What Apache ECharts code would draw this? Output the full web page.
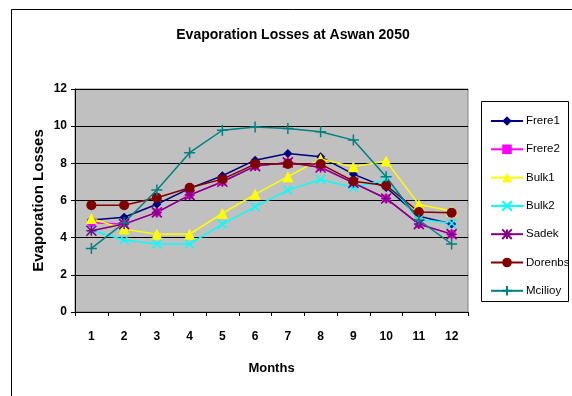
<!DOCTYPE html>
<html>
<head>
<meta charset="utf-8">
<script src="https://cdn.jsdelivr.net/npm/echarts@6/dist/echarts.min.js"></script>
<style>
  html, body { margin: 0; padding: 0; background: #fff; }
  #chart { width: 572px; height: 396px; }
</style>
</head>
<body>
<div id="chart"></div>
<script>
// Monthly evaporation losses at Aswan (2050) by estimation method
const months = ['1', '2', '3', '4', '5', '6', '7', '8', '9', '10', '11', '12'];
const frere1  = [4.95, 5.10, 5.80, 6.65, 7.33, 8.17, 8.53, 8.35, 7.42, 6.70, 5.16, 4.73];
const frere2  = [4.80, 4.73, 5.36, 6.29, 7.01, 7.85, 8.05, 7.80, 6.95, 6.11, 4.73, 4.19];
const bulk1   = [5.03, 4.46, 4.19, 4.19, 5.30, 6.33, 7.28, 8.23, 7.81, 8.12, 5.79, 5.43];
const bulk2   = [4.41, 3.87, 3.66, 3.66, 4.73, 5.66, 6.56, 7.13, 6.70, 7.10, 4.98, 4.77];
const sadek   = [4.37, 4.73, 5.36, 6.29, 7.01, 7.85, 8.05, 7.78, 6.95, 6.11, 4.73, 4.19];
const dorenbs = [5.75, 5.75, 6.15, 6.69, 7.15, 7.96, 7.96, 7.96, 7.04, 6.81, 5.38, 5.34];
const mcilioy = [3.42, 4.80, 6.56, 8.57, 9.78, 9.96, 9.87, 9.70, 9.25, 7.28, 4.95, 3.66];

const FONT = '"Liberation Sans Narrow", "Arial Narrow", "Liberation Sans", Arial, sans-serif';

// Open-stroke marker shapes
const PLUS = 'path://M5 0 L5 10 M0 5 L10 5';
const CROSS = 'path://M0 0 L10 10 M10 0 L0 10';
const ASTER = 'path://M5 0 L5 10 M0 0 L10 10 M10 0 L0 10 M0 5 L10 5';

function line(name, data, color, symbol, size, stroke) {
  return {
    name: name,
    type: 'line',
    data: data,
    symbol: symbol,
    symbolSize: size,
    showAllSymbol: true,
    animation: false,
    lineStyle: { color: color, width: 1.5 },
    itemStyle: { color: color, borderColor: color, borderWidth: stroke ? 1.5 : 0 },
    emphasis: { disabled: true }
  };
}

const chart = echarts.init(document.getElementById('chart'), null, { renderer: 'canvas' });
chart.setOption({
  backgroundColor: '#fff',
  animation: false,
  title: {
    text: 'Evaporation Losses at Aswan 2050',
    left: 288, top: 23, textAlign: 'center',
    textStyle: { fontFamily: FONT, fontWeight: 'bold', fontSize: 14, color: '#000' }
  },
  graphic: [
    { type: 'rect', shape: { x: 11.5, y: 9.5, width: 620, height: 420 },
      style: { fill: 'none', stroke: '#000', lineWidth: 1 }, z: -1 },
    { type: 'rect', shape: { x: 481.5, y: 101.5, width: 87, height: 200 },
      style: { fill: '#fff', stroke: '#000', lineWidth: 1 }, z: 0 }
  ],
  legend: {
    orient: 'vertical',
    left: 485, top: 110,
    itemWidth: 32, itemHeight: 12, itemGap: 16.3,
    textStyle: { fontFamily: FONT, fontSize: 11.5, lineHeight: 12, color: '#000', padding: [0, 0, 0, -2] },
    z: 5,
    data: ['Frere1', 'Frere2', 'Bulk1', 'Bulk2', 'Sadek', 'Dorenbs', 'Mcilioy']
  },
  grid: {
    left: 75, right: 104, top: 89, bottom: 84,
    show: true, backgroundColor: '#C0C0C0', borderColor: '#808080', borderWidth: 1
  },
  xAxis: {
    type: 'category',
    data: months,
    boundaryGap: true,
    name: 'Months',
    nameLocation: 'middle', nameGap: 50,
    nameMoveOverlap: false,
    nameTextStyle: { fontFamily: FONT, fontWeight: 'bold', fontSize: 13, color: '#000' },
    axisLine: { lineStyle: { color: '#000' } },
    axisTick: { show: true, interval: 0, length: 4, lineStyle: { color: '#000' } },
    axisLabel: { margin: 19, interval: 0, fontFamily: FONT, fontWeight: 'bold', fontSize: 12, color: '#000' },
    splitLine: { show: false }
  },
  yAxis: {
    type: 'value',
    min: 0, max: 12, interval: 2,
    name: 'Evaporation Losses',
    nameLocation: 'middle', nameGap: 29,
    nameMoveOverlap: false,
    nameTextStyle: { fontFamily: FONT, fontWeight: 'bold', fontSize: 15, color: '#000' },
    axisLine: { show: true, lineStyle: { color: '#000' } },
    axisTick: { show: true, length: 4, lineStyle: { color: '#000' } },
    axisLabel: { margin: 8, fontFamily: FONT, fontWeight: 'bold', fontSize: 12, color: '#000' },
    splitLine: { show: true, lineStyle: { color: '#000', width: 1 } }
  },
  series: [
    line('Frere1', frere1, '#000080', 'diamond', 9, false),
    line('Frere2', frere2, '#FF00FF', 'rect', 8, false),
    line('Bulk1', bulk1, '#FFFF00', 'triangle', 11, false),
    line('Bulk2', bulk2, '#00FFFF', CROSS, 9, true),
    line('Sadek', sadek, '#800080', ASTER, 10, true),
    line('Dorenbs', dorenbs, '#800000', 'circle', 10, false),
    line('Mcilioy', mcilioy, '#008080', PLUS, 11, true)
  ]
});
</script>
</body>
</html>
